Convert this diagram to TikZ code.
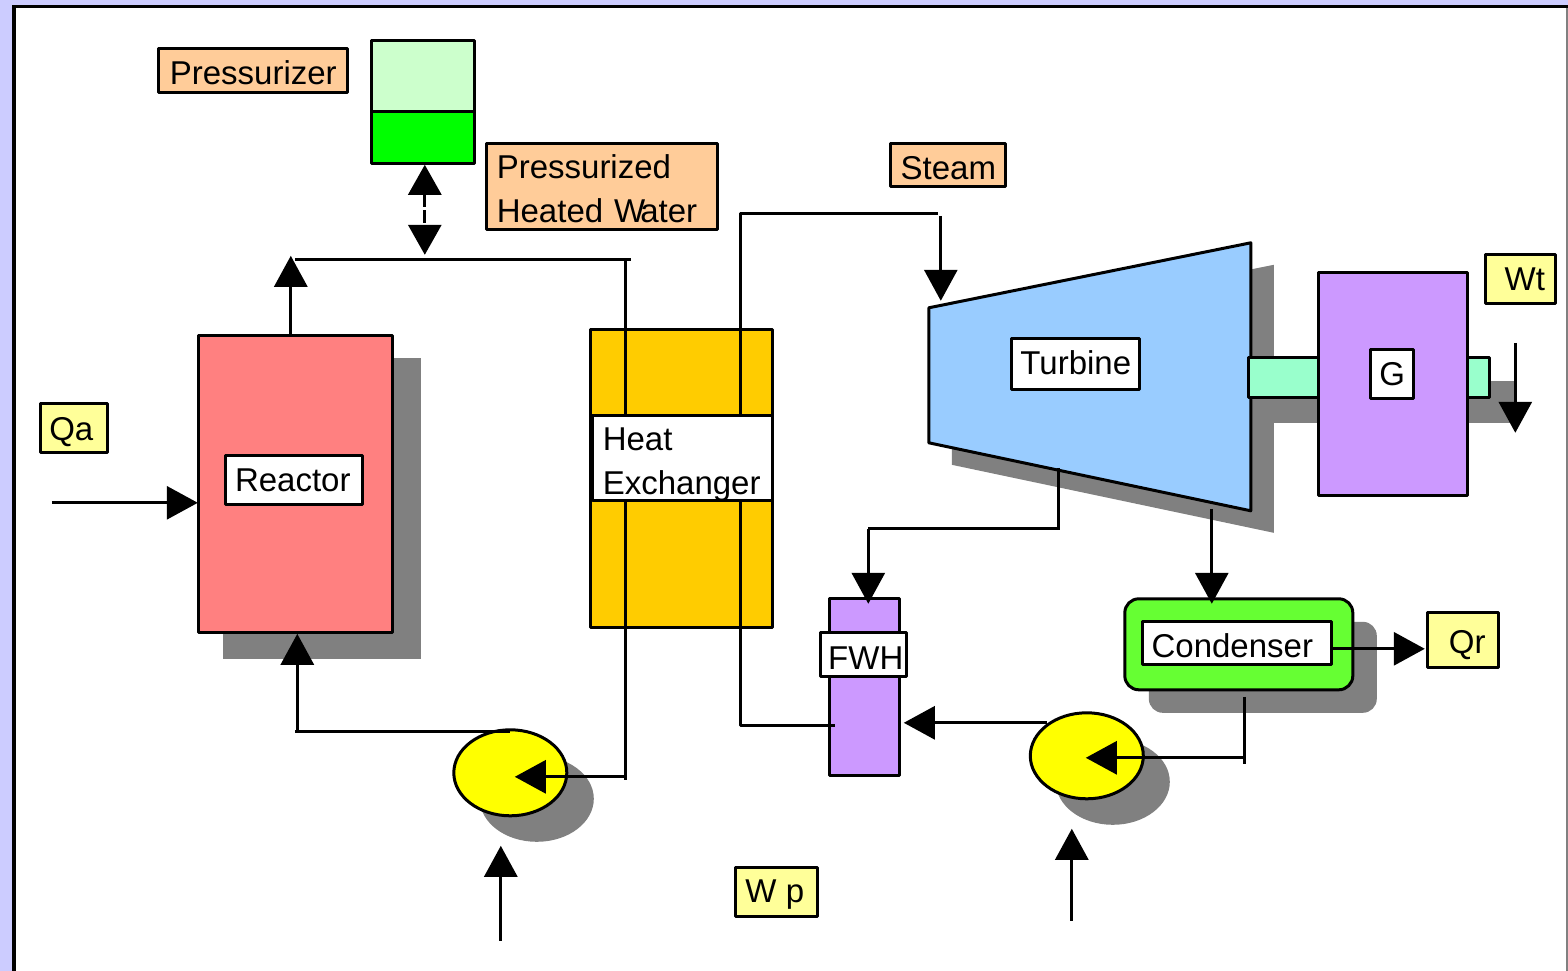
\documentclass[tikz,border=0pt]{standalone}
\usepackage{fontspec}
\setmainfont{Liberation Sans}
\usetikzlibrary{arrows.meta,shapes.geometric}
\definecolor{bgc}{HTML}{CCCCFF}
\definecolor{peach}{HTML}{FFCC99}
\definecolor{paley}{HTML}{FFFF99}
\definecolor{shade}{HTML}{808080}
\definecolor{lgreen}{HTML}{CCFFCC}
\definecolor{fgreen}{HTML}{00FF00}
\definecolor{yel}{HTML}{FFFF00}
\definecolor{purp}{HTML}{CC99FF}
\definecolor{aqua}{HTML}{99FFCC}
\definecolor{blu}{HTML}{99CCFF}
\definecolor{gold}{HTML}{FFCC00}
\definecolor{reac}{HTML}{FF8080}
\definecolor{cond}{HTML}{66FF33}
\tikzset{
  x=1pt,y=-1pt,
  part/.style={draw=black,line width=3pt,inner sep=0pt,outer sep=0pt,rectangle,line join=round},
  lab/.style={part,font=\fontsize{33}{43.5}\selectfont,text=black,align=left},
  shad/.style={fill=shade,draw=none},
  conn/.style={draw=black,line width=3pt},
  flow/.style={conn,-{Triangle[length=31pt,width=33pt]}},
}
% #1 height of the strut that pushes a line down in its box
\newcommand{\dn}[1]{\rule{0pt}{#1pt}}
\begin{document}
\begin{tikzpicture}
\useasboundingbox (0.2,0.2) rectangle (1568.2,971.2);
\fill[bgc] (0,0) rectangle (1570,973);
\fill[white] (14,6.5) rectangle (1567,990);
\draw[line width=1.5pt,draw=shade] (1567,7) -- (1567,990);
\draw[line width=3.5pt] (1568,6.5) -- (14,6.5) -- (14,990);
% shadows
\fill[shad] (223,358) rectangle (421,659);
\fill[shad] (952,330) -- (1274,265) -- (1274,533) -- (952,465) -- cycle;
\fill[shad] (1273,381) rectangle (1514,423);
\fill[shad,rounded corners=14pt] (1149,622) rectangle (1377,713);
\fill[shad] (537,799) ellipse (57 and 43);
\fill[shad] (1113,782) ellipse (57 and 43);
% main bodies
\node[part,fill=lgreen,minimum width=103pt,minimum height=71pt] (tanktop) at (423.5,76.5) {};
\node[part,fill=fgreen,minimum width=103pt,minimum height=52pt] (tank) at (423.5,138) {};
\node[part,fill=reac,minimum width=194pt,minimum height=297pt] (reactor) at (296,484.5) {};
\node[part,fill=gold,minimum width=182pt,minimum height=298pt] (hx) at (682,479) {};
\node[part,fill=purp,minimum width=70pt,minimum height=177pt] (fwh) at (865,687.5) {};
\node[part,fill=cond,rounded corners=14pt,minimum width=228pt,minimum height=91pt] (condenser) at (1239,644.5) {};
\draw[part,fill=blu] (929,308) -- (1251,243) -- (1251,511) -- (929,443) -- cycle;
\node[part,fill=aqua,minimum width=241pt,minimum height=40pt] (shaft) at (1369.5,378) {};
\node[part,fill=purp,minimum width=149pt,minimum height=223pt] (gen) at (1393.5,384.5) {};
\node[part,ellipse,fill=yel,minimum width=113pt,minimum height=86pt] (pumpa) at (510.5,773) {};
\node[part,ellipse,fill=yel,minimum width=113pt,minimum height=86pt] (pumpb) at (1087,756) {};
% coordinates for connector ends
\coordinate (qain) at (52,503);
\coordinate (rtop) at (291,336);
\coordinate (rtip) at (291,256);
\coordinate (hotl) at (295,260);
\coordinate (hotr) at (631,260);
\coordinate (dbla) at (425,165);
\coordinate (dblb) at (425,255);
\coordinate (hxl) at (626,260);
\coordinate (hxlb) at (626,780);
\coordinate (hxlc) at (626,777);
\coordinate (pa) at (515,777);
\coordinate (patop) at (510,732);
\coordinate (coldl) at (295,732);
\coordinate (rin) at (297.5,732);
\coordinate (rbot) at (297.5,634);
\coordinate (wpa) at (501,941);
\coordinate (wpat) at (501,846);
\coordinate (wpb) at (1072,921);
\coordinate (wpbt) at (1072,829);
\coordinate (shs) at (741,214);
\coordinate (shb) at (741,726);
\coordinate (fwhin) at (835,726);
\coordinate (she) at (938,214);
\coordinate (tin) at (941,216);
\coordinate (tint) at (941,301);
\coordinate (ext) at (1059,468);
\coordinate (extb) at (1059,529);
\coordinate (fwhs) at (868.5,529);
\coordinate (fwht) at (868.5,604);
\coordinate (tex) at (1212,509);
\coordinate (text) at (1212,604);
\coordinate (cq) at (1332,649);
\coordinate (cqt) at (1425,649);
\coordinate (cb) at (1245,697);
\coordinate (cbe) at (1245,764);
\coordinate (cbm) at (1245,758);
\coordinate (pbt) at (1086,758);
\coordinate (pbo) at (1047,723);
\coordinate (pbot) at (904,723);
\coordinate (wts) at (1515.5,343);
\coordinate (wtt) at (1515.5,433);
% connectors
\draw[flow] (qain) -- (198,503);
\draw[flow] (rtop) -- (rtip);
\draw[conn] (hotl) -- (hotr);
\draw[conn,dash pattern=on 13pt off 3pt,{Triangle[length=30pt,width=33pt]}-{Triangle[length=30pt,width=33pt]}] (dbla) -- (dblb);
\draw[conn] (hxl) -- (hxlb);
\draw[flow] (hxlc) -- (pa);
\draw[conn] (patop) -- (coldl);
\draw[flow] (rin) -- (rbot);
\draw[flow] (wpa) -- (wpat);
\draw[flow] (wpb) -- (wpbt);
\draw[conn,line join=round] (she) -- (shs) -- (shb) -- (fwhin);
\draw[flow] (tin) -- (tint);
\draw[conn] (ext) -- (extb) -- (fwhs);
\draw[flow] (fwhs) -- (fwht);
\draw[flow] (tex) -- (text);
\draw[conn] (cb) -- (cbe);
\draw[flow] (cbm) -- (pbt);
\draw[flow] (pbo) -- (pbot);
\draw[flow] (wts) -- (wtt);
% labels
\node[lab,fill=white,minimum width=137pt,minimum height=49pt] (reactorlab) at (294.5,480.5) {Reactor\hspace*{3pt}};
\node[lab,fill=white,minimum width=180pt,minimum height=85pt,text width=160pt] (hxlab) at (683,458.5) {\dn{35}Heat\\Exchanger};
\node[lab,fill=white,minimum width=86pt,minimum height=44pt] (fwhlab) at (864,655) {\hspace*{4pt}\dn{29}FWH};
\node[lab,fill=white,minimum width=189pt,minimum height=43pt] (condlab) at (1237.5,643.5) {\dn{28}Condenser\hspace*{10pt}};
\node[lab,fill=white,minimum width=128pt,minimum height=51pt] (turblab) at (1076,364.5) {\rule[-3pt]{0pt}{0pt}Turbine};
\node[lab,fill=white,minimum width=43pt,minimum height=49pt] (genlab) at (1392.5,374.5) {G};
\draw[flow] (cq) -- (cqt);
\node[lab,fill=peach,minimum width=189pt,minimum height=44pt] (plab) at (253.5,71) {\dn{28}Pressurizer};
\node[lab,fill=peach,minimum width=231pt,minimum height=86pt,text width=211pt] (phw) at (602.5,187) {\dn{28}Pressurized\\Heated W\kern-5pt ater};
\node[lab,fill=peach,minimum width=115pt,minimum height=43pt] (steam) at (948.5,165.5) {\dn{28}Steam};
\node[lab,fill=paley,minimum width=70pt,minimum height=49pt] (wt) at (1521,279.5) {\hspace*{8pt}Wt};
\node[lab,fill=paley,minimum width=67pt,minimum height=49pt] (qa) at (74.5,428.5) {\dn{30}Qa\hspace*{6pt}};
\node[lab,fill=paley,minimum width=71pt,minimum height=55pt] (qr) at (1463.5,640.5) {\hspace*{8pt}\dn{32}Qr};
\node[lab,fill=paley,minimum width=82pt,minimum height=49pt] (wp) at (777,892.5) {\dn{28}W p\hspace*{4pt}};
\end{tikzpicture}
\end{document}
